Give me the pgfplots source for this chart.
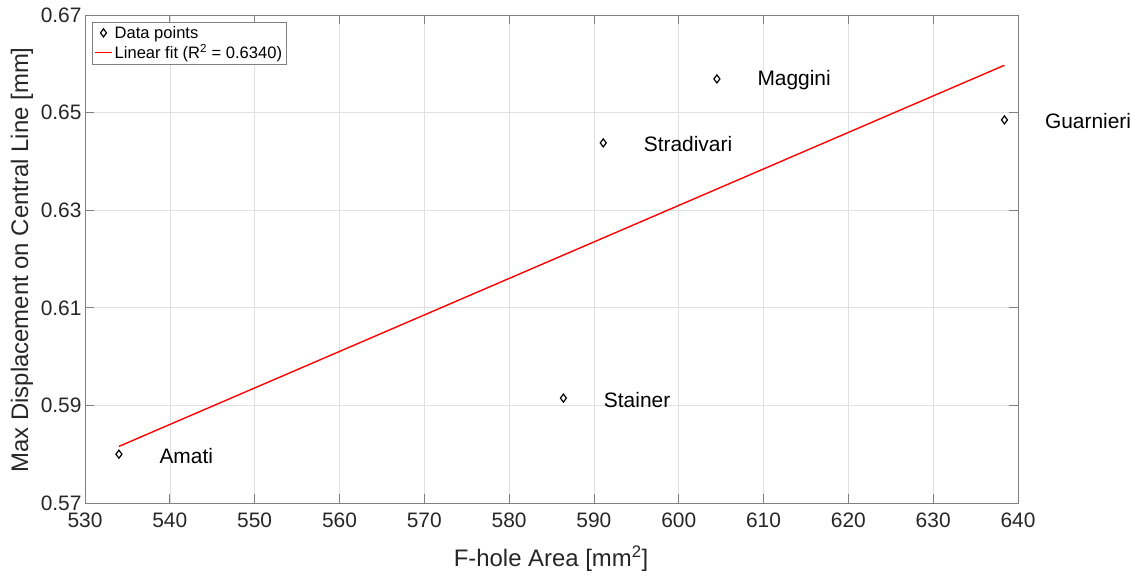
\documentclass[border=0pt]{standalone}
\usepackage{fontspec}
\setmainfont{Liberation Sans}
\usepackage{pgfplots}
\pgfplotsset{compat=1.18}
\definecolor{axgray}{gray}{0.5}
\definecolor{gridgray}{gray}{0.88}
\definecolor{tickcol}{gray}{0.15}
\pgfplotstableread{
x y label
534.0 0.5800 Amati
586.4 0.5915 Stainer
591.1 0.6438 Stradivari
604.5 0.6569 Maggini
638.4 0.6485 Guarnieri
}\datapts
\begin{document}
\begin{tikzpicture}
\begin{axis}[name=ax, scale only axis, width=933bp, height=488bp,
  xmin=530, xmax=640, ymin=0.57, ymax=0.67,
  xtick={530,540,550,560,570,580,590,600,610,620,630,640},
  ytick={0.57,0.59,0.61,0.63,0.65,0.67},
  yticklabel style={/pgf/number format/fixed, /pgf/number format/precision=2, /pgf/number format/fixed zerofill},
  xticklabel style={yshift=-6bp},
  /pgf/number format/assume math mode=true,
  tick align=inside, major tick length=9bp,
  xmajorgrids, ymajorgrids, grid style={gridgray, line width=0.6bp},
  axis line style={axgray, line width=0.8bp}, tick style={axgray, line width=0.8bp},
  ticklabel style={font=\fontsize{21}{25}\selectfont, text=tickcol},
  label style={font=\fontsize{24}{28}\selectfont, text=tickcol},
  xlabel={F-hole Area [mm\textsuperscript{2}]},
  ylabel={Max Displacement on Central Line [mm]},
  xlabel style={at={(axis description cs:0.4995,-0.113)}, anchor=center},
  ylabel style={at={(axis description cs:-0.0675,0.498)}, anchor=center},
  legend style={at={(axis description cs:0.0075,0.986)}, anchor=north west, draw=axgray, line width=0.6bp,
    font=\fontsize{16.6}{20}\selectfont, text=black, inner sep=2bp, row sep=1bp, cells={anchor=west}},
  legend cell align=left,
]
\addplot[only marks, mark=diamond*, mark size=4bp, mark options={fill=white, draw=black, line width=1.2bp},
  nodes near coords, point meta=explicit symbolic,
  every node near coord/.append style={anchor=west, xshift=40bp, yshift=-1.5bp, inner sep=0pt, font=\fontsize{21}{25}\selectfont, text=black}]
  table[x=x, y=y, meta=label] {\datapts};
\addlegendentry{Data points}
\addplot[red, line width=1.4bp] coordinates {(534.0,0.5816) (638.4,0.6597)};
\addlegendentry{Linear fit (R\textsuperscript{2} = 0.6340)}
\end{axis}
\pgfresetboundingbox
\path[use as bounding box] ([xshift=-85bp,yshift=-73bp]ax.south west) rectangle ([xshift=129bp,yshift=15bp]ax.north east);
\end{tikzpicture}
\end{document}
